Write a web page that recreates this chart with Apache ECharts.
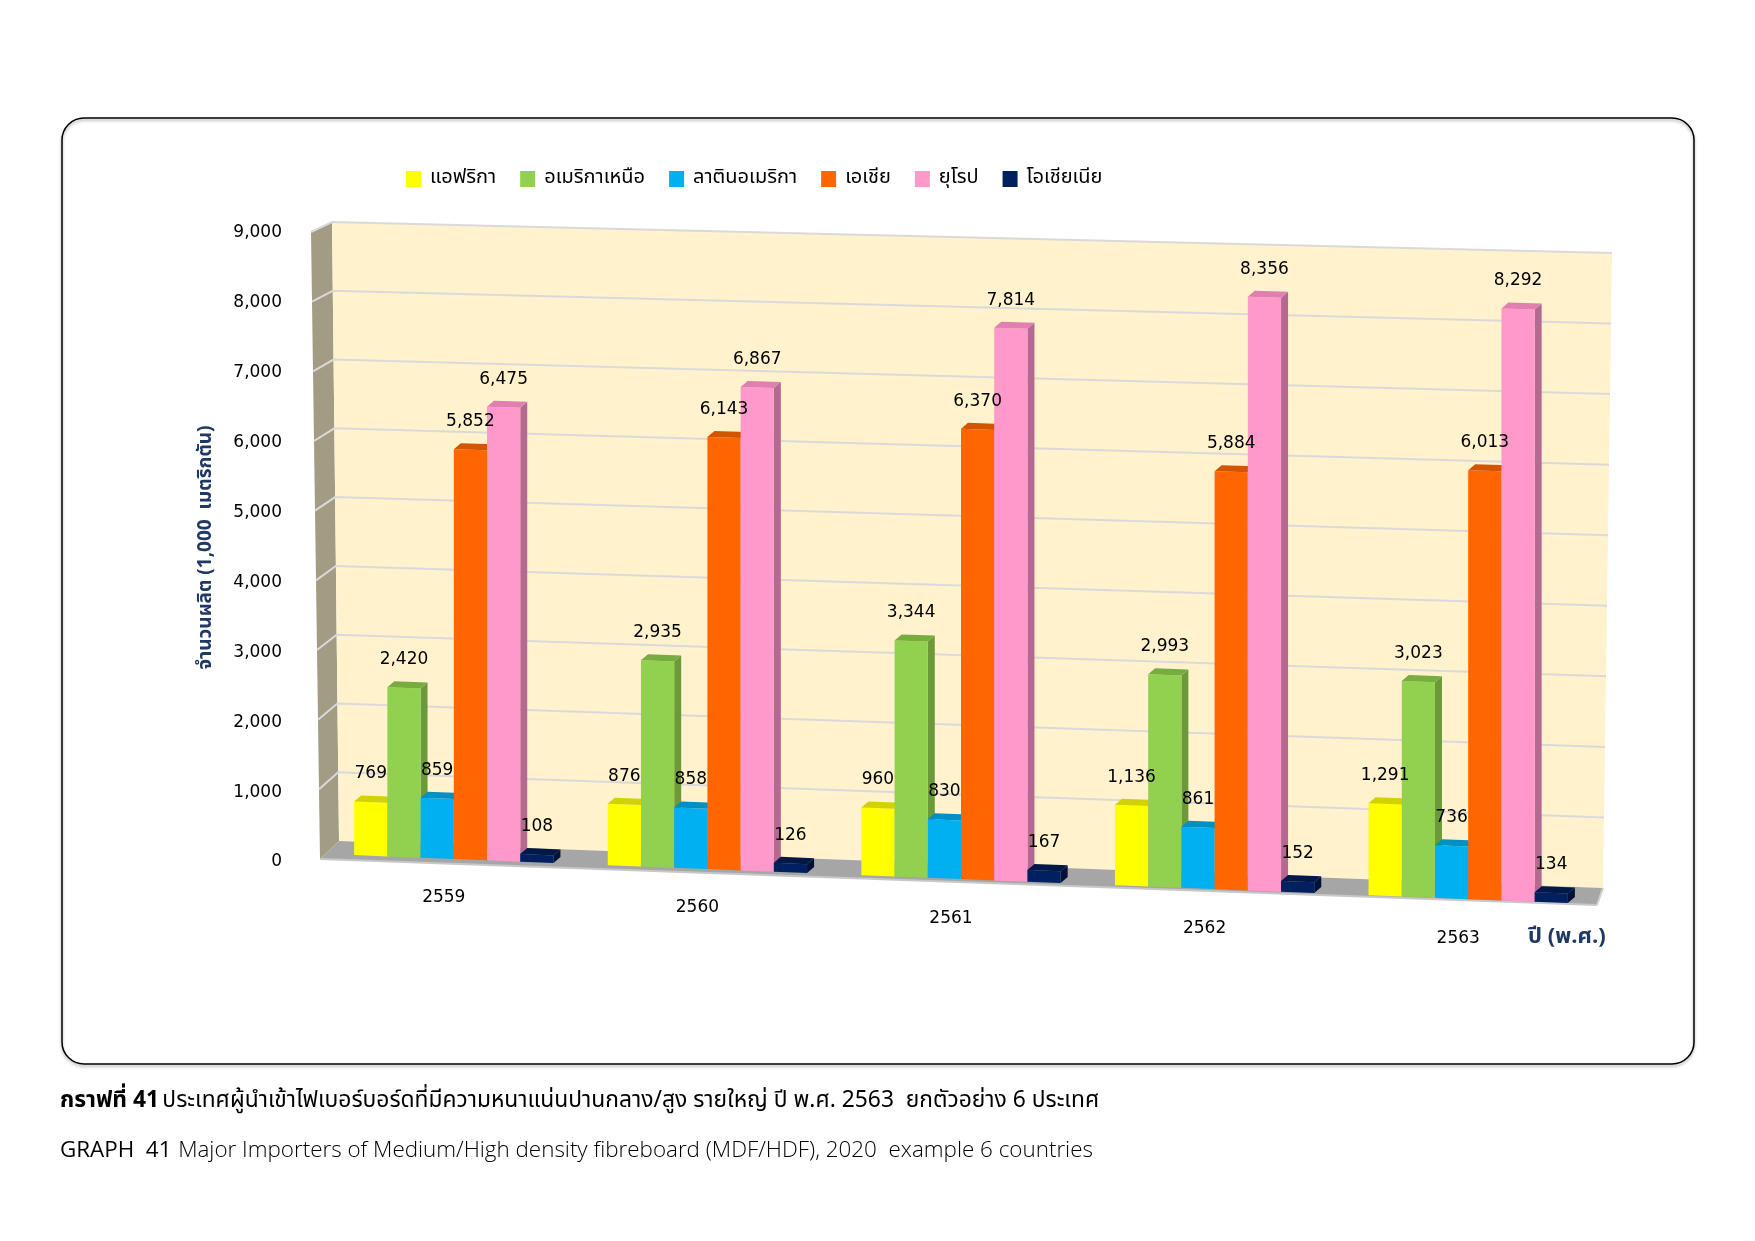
<!DOCTYPE html>
<html>
<head>
<meta charset="utf-8">
<script src="https://cdn.jsdelivr.net/npm/echarts@6/dist/echarts.min.js"></script>
<style>
  html, body { margin: 0; padding: 0; background: #fff; }
  #main { width: 1755px; height: 1241px; }
</style>
</head>
<body>
<div id="main"></div>
<script>
// ข้อมูล
var years = ['2559', '2560', '2561', '2562', '2563'];
var regions = ['แอฟริกา', 'อเมริกาเหนือ', 'ลาตินอเมริกา', 'เอเชีย', 'ยุโรป', 'โอเชียเนีย'];
var africa = [769, 876, 960, 1136, 1291];
var northAmerica = [2420, 2935, 3344, 2993, 3023];
var latinAmerica = [859, 858, 830, 861, 736];
var asia = [5852, 6143, 6370, 5884, 6013];
var europe = [6475, 6867, 7814, 8356, 8292];
var oceania = [108, 126, 167, 152, 134];
var yMax = 9000;
var yStep = 1000;

var seriesData = [africa, northAmerica, latinAmerica, asia, europe, oceania];
// front / top / side
var colors = [
  { front: '#FFFF00', top: '#D2D200', side: '#C8C800' },
  { front: '#92D050', top: '#77AD3E', side: '#6C9A3A' },
  { front: '#00B0F0', top: '#0090C4', side: '#0088B8' },
  { front: '#FF6600', top: '#D45500', side: '#C44E00' },
  { front: '#FF99CC', top: '#E07FB0', side: '#B46A90' },
  { front: '#002060', top: '#00184A', side: '#001238' }
];

var NUM_FONT = '17px "DejaVu Sans", Verdana, sans-serif';
var THAI_FONT = '"Noto Sans Thai", "Noto Sans", "DejaVu Sans", sans-serif';

// มุมมอง 3 มิติแบบเอียง
var SKEW0 = 0.0395, SKEW1 = 0.0278;
function skew(v) { return SKEW0 + (SKEW1 - SKEW0) * v / yMax; }
function fmt(v) { return v.toLocaleString('en-US'); }

function barRenderer(si) {
  return function (params, api) {
    var cat = api.value(0), v = api.value(1);
    var band = api.size([1, 0])[0];
    var bw = band * 0.131;
    var cx = api.coord([cat, 0])[0] + (si - 2.5) * bw;
    var x1 = cx - bw / 2, x2 = cx + bw / 2;
    var gx = params.coordSys.x + 24;
    function py(x, val) { return api.coord([cat, val])[1] - 7 + skew(val) * (x - gx); }
    var yb1 = py(x1, 0), yb2 = py(x2, 0), yt1 = py(x1, v), yt2 = py(x2, v);
    var dx = 7, dy = -6;
    var c = colors[si];
    return {
      type: 'group',
      children: [
        { type: 'polygon', shape: { points: [[x2, yb2], [x2 + dx, yb2 + dy], [x2 + dx, yt2 + dy], [x2, yt2]] }, style: { fill: c.side } },
        { type: 'polygon', shape: { points: [[x1, yb1], [x2, yb2], [x2, yt2], [x1, yt1]] }, style: { fill: c.front } },
        { type: 'polygon', shape: { points: [[x1, yt1], [x2, yt2], [x2 + dx, yt2 + dy], [x1 + dx, yt1 + dy]] }, style: { fill: c.top } },
        { type: 'text', z2: 100, x: cx, y: (yt1 + yt2) / 2 - 28,
          style: { text: fmt(v), fill: '#000', font: NUM_FONT, textAlign: 'center', textVerticalAlign: 'middle' } }
      ]
    };
  };
}

// ผนัง พื้น และเส้นกริด
function frameRenderer(params, api) {
  var cs = params.coordSys;
  var GL = cs.x, GR = cs.x + cs.width;
  var children = [];
  function cy(v) { return api.coord([0, v])[1]; }
  function sideFront(v) { var t = v / yMax; return [GL - 7 - 9 * t, cy(v) - 3 + 2 * t]; }
  function wallLeft(v) { var t = v / yMax; return [GL + 12 - 7 * t, cy(v) - 21 + 10 * t]; }
  function wallRight(v) { var t = v / yMax; return [GR + 8 + 9 * t, cy(v) + 26 - 6 * t]; }

  children.push({ type: 'polygon', shape: { points: [sideFront(0), sideFront(yMax), wallLeft(yMax), wallLeft(0)] },
    style: { fill: '#A39C84' } });
  children.push({ type: 'polygon', shape: { points: [wallLeft(0), wallLeft(yMax), wallRight(yMax), wallRight(0)] },
    style: { fill: '#FFF2CC' } });
  for (var v = yStep; v <= yMax; v += yStep) {
    children.push({ type: 'polyline', shape: { points: [sideFront(v), wallLeft(v), wallRight(v)] },
      style: { stroke: '#D9D9D9', lineWidth: 2, fill: null } });
  }
  var fl = sideFront(0), fr = [GR + 2, cy(0) + 43];
  children.push({ type: 'polygon', shape: { points: [fl, wallLeft(0), wallRight(0), fr] },
    style: { fill: '#A6A6A6' } });
  children.push({ type: 'line', shape: { x1: fl[0], y1: fl[1], x2: fr[0], y2: fr[1] },
    style: { stroke: '#C8C8C8', lineWidth: 2 } });
  children.push({ type: 'line', shape: { x1: fr[0], y1: fr[1], x2: wallRight(0)[0], y2: wallRight(0)[1] },
    style: { stroke: '#D0D0D0', lineWidth: 2 } });
  return { type: 'group', children: children };
}

function catLabelRenderer(params, api) {
  var i = api.value(0);
  var x = api.coord([i, 0])[0];
  var gx = params.coordSys.x + 24;
  var y = api.coord([i, 0])[1] - 7 + SKEW0 * (x - gx) + 39;
  return { type: 'text', x: x - 10, y: y,
    style: { text: years[i], fill: '#000', font: NUM_FONT, textAlign: 'center', textVerticalAlign: 'middle' } };
}

var series = [
  { type: 'custom', name: 'frame', silent: true, z: 1, renderItem: frameRenderer, data: [[0]] },
  { type: 'custom', name: 'years', silent: true, z: 1, renderItem: catLabelRenderer,
    data: years.map(function (y, i) { return [i]; }) }
];
seriesData.forEach(function (arr, si) {
  series.push({
    type: 'custom',
    name: regions[si],
    z: 2,
    itemStyle: { color: colors[si].front },
    renderItem: barRenderer(si),
    data: arr.map(function (v, i) { return [i, v]; })
  });
});

var chart = echarts.init(document.getElementById('main'));
var option = {
  backgroundColor: '#fff',
  animation: false,
  grid: { left: 327, right: 160, top: 233, bottom: 379 },
  legend: {
    data: regions,
    left: 401,
    top: 164,
    icon: 'rect',
    itemWidth: 15,
    itemHeight: 16,
    itemGap: 24,
    textStyle: { fontFamily: THAI_FONT, fontSize: 20, color: '#000', padding: [0, 0, 0, 4] }
  },
  xAxis: {
    type: 'category',
    data: years,
    axisLine: { show: false },
    axisTick: { show: false },
    axisLabel: { show: false },
    splitLine: { show: false }
  },
  yAxis: {
    type: 'value',
    min: 0,
    max: yMax,
    interval: yStep,
    name: 'จำนวนผลิต (1,000  เมตริกตัน)',
    nameLocation: 'middle',
    nameRotate: 90,
    nameGap: 110,
    nameTextStyle: { fontFamily: THAI_FONT, fontSize: 19, fontWeight: 'bold', color: '#203864' },
    axisLine: { show: false },
    axisTick: { show: false },
    splitLine: { show: false },
    axisLabel: {
      margin: 45,
      fontFamily: '"DejaVu Sans", Verdana, sans-serif',
      fontSize: 17,
      color: '#000',
      formatter: function (v) { return fmt(v); }
    }
  },
  graphic: [
    { type: 'rect', z: -10, silent: true,
      shape: { x: 62, y: 118, width: 1632, height: 946, r: 22 },
      style: { fill: 'none', stroke: '#000', lineWidth: 1.5, shadowBlur: 3, shadowOffsetY: 2, shadowColor: 'rgba(0,0,0,0.35)' } },
    { type: 'text', left: 1528, top: 928,
      style: { text: 'ปี (พ.ศ.)', fill: '#203864', font: 'bold 22px ' + THAI_FONT } },
    { type: 'text', left: 60, top: 1091,
      style: {
        text: '{b|กราฟที่ 41} {r|ประเทศผู้นำเข้าไฟเบอร์บอร์ดที่มีความหนาแน่นปานกลาง/สูง รายใหญ่ ปี พ.ศ. 2563  ยกตัวอย่าง 6 ประเทศ}',
        rich: {
          b: { fontFamily: THAI_FONT, fontSize: 22.8, fontWeight: 'bold', fill: '#000' },
          r: { fontFamily: THAI_FONT, fontSize: 22.8, fill: '#000' }
        }
      } },
    { type: 'text', left: 60, top: 1140,
      style: {
        text: '{b|GRAPH  41}  {r|Major Importers of Medium/High density fibreboard (MDF/HDF), 2020  example 6 countries}',
        rich: {
          b: { fontFamily: '"Open Sans", "Noto Sans", sans-serif', fontSize: 22.4, fill: '#000' },
          r: { fontFamily: '"Open Sans", "Noto Sans", sans-serif', fontSize: 22.4, fontWeight: 300, fill: '#000' }
        }
      } }
  ],
  series: series
};
chart.setOption(option);
</script>
</body>
</html>
